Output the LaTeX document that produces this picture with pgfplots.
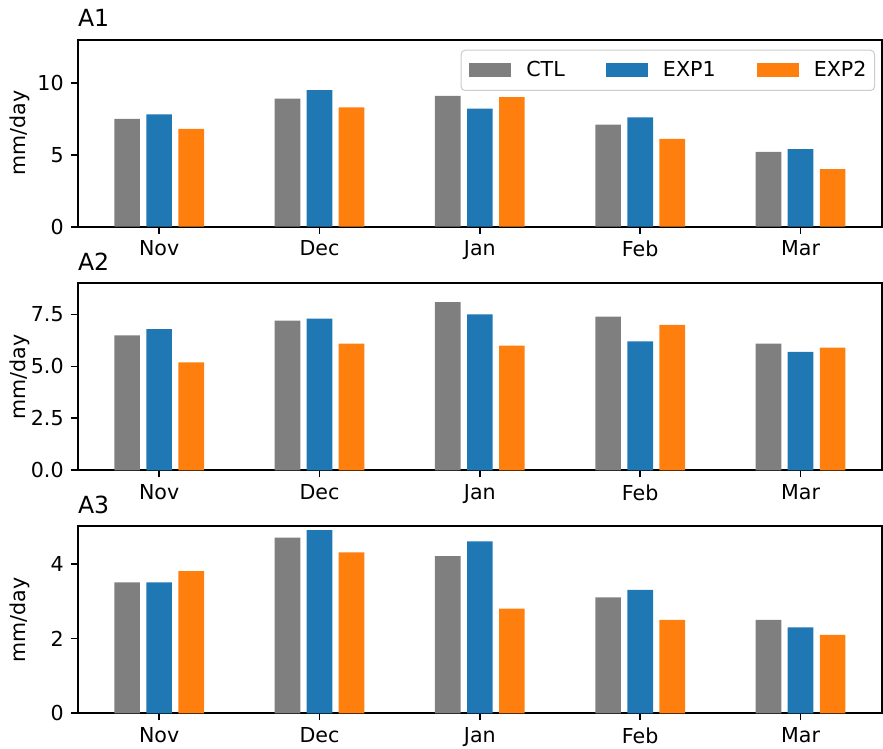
\documentclass[border=0pt]{standalone}
\usepackage{fontspec}
\setmainfont{DejaVu Sans}
\usepackage{pgfplots}
\usepackage{pgfplotstable}
\pgfplotsset{compat=1.18}
\definecolor{cgray}{HTML}{7F7F7F}
\definecolor{cblue}{HTML}{1F77B4}
\definecolor{corange}{HTML}{FF7F0E}

\pgfplotstableread{
x ctl exp1 exp2
0 7.5 7.8 6.8
1 8.9 9.5 8.3
2 9.1 8.2 9.0
3 7.1 7.6 6.1
4 5.2 5.4 4.0
}\dataA
\pgfplotstableread{
x ctl exp1 exp2
0 6.5 6.8 5.2
1 7.2 7.3 6.1
2 8.1 7.5 6.0
3 7.4 6.2 7.0
4 6.1 5.7 5.9
}\dataB
\pgfplotstableread{
x ctl exp1 exp2
0 3.5 3.5 3.8
1 4.7 4.9 4.3
2 4.2 4.6 2.8
3 3.1 3.3 2.5
4 2.5 2.3 2.1
}\dataC

\pgfplotsset{
  panel/.style={
    scale only axis, width=402.15pt, height=93.5pt,
    anchor=south west,
    xmin=-0.508, xmax=4.508, ymin=0,
    xtick={0,1,2,3,4}, xticklabels={Nov,Dec,Jan,Feb,Mar},
    tick align=outside, xtick pos=lower, ytick pos=left,
    major tick length=3.5pt,
    axis line style={line width=0.9pt},
    every tick/.style={line width=0.9pt, black},
    /pgf/number format/assume math mode=true,
    tick label style={font=\fontsize{10.3}{12}\selectfont},
    ylabel={mm/day},
    every axis y label/.style={at={(axis description cs:-0.0715,0.5)}, rotate=90, anchor=center, font=\fontsize{10.3}{12}\selectfont},
    every axis title/.style={at={(axis description cs:0,1)}, anchor=base west, yshift=6.6pt, inner sep=0pt, font=\fontsize{11.8}{14}\selectfont},
  },
  mybar/.style={ybar, bar width=0.16, bar shift=#1, draw=none,
    legend image code/.code={\fill[##1, sharp corners] (0pt,-3.5pt) rectangle (21pt,3.5pt);}},
}

\begin{document}
\begin{tikzpicture}
\begin{axis}[panel, at={(0pt,0pt)}, ymax=13, ytick={0,5,10}, title={A1},
  legend columns=3,
  legend style={at={(1,1)}, anchor=north east, xshift=-3.5pt, yshift=-5pt,
    draw=black!20, rounded corners=2pt, line width=0.5pt,
    inner xsep=4pt, inner ysep=5.5pt,
    nodes={inner sep=0pt, font=\fontsize{10.3}{12}\selectfont},
    /tikz/every odd column/.append style={column sep=7.6pt},
    /tikz/every even column/.append style={column sep=20.5pt}}]
\addplot[mybar=-0.2, fill=cgray] table[x=x,y=ctl]{\dataA};
\addplot[mybar=0, fill=cblue] table[x=x,y=exp1]{\dataA};
\addplot[mybar=0.2, fill=corange] table[x=x,y=exp2]{\dataA};
\legend{CTL,EXP1,EXP2}
\end{axis}
\begin{axis}[panel, at={(0pt,-121.8pt)}, ymax=9, ytick={0,2.5,5,7.5}, title={A2},
  yticklabel style={/pgf/number format/.cd, fixed, fixed zerofill, precision=1}]
\addplot[mybar=-0.2, fill=cgray] table[x=x,y=ctl]{\dataB};
\addplot[mybar=0, fill=cblue] table[x=x,y=exp1]{\dataB};
\addplot[mybar=0.2, fill=corange] table[x=x,y=exp2]{\dataB};
\end{axis}
\begin{axis}[panel, at={(0pt,-243.3pt)}, ymax=5, ytick={0,2,4}, title={A3}]
\addplot[mybar=-0.2, fill=cgray] table[x=x,y=ctl]{\dataC};
\addplot[mybar=0, fill=cblue] table[x=x,y=exp1]{\dataC};
\addplot[mybar=0.2, fill=corange] table[x=x,y=exp2]{\dataC};
\end{axis}
\pgfresetboundingbox
\path[use as bounding box] (-38.85pt,-261.15pt) rectangle (402.65pt,113.35pt);
\end{tikzpicture}
\end{document}
